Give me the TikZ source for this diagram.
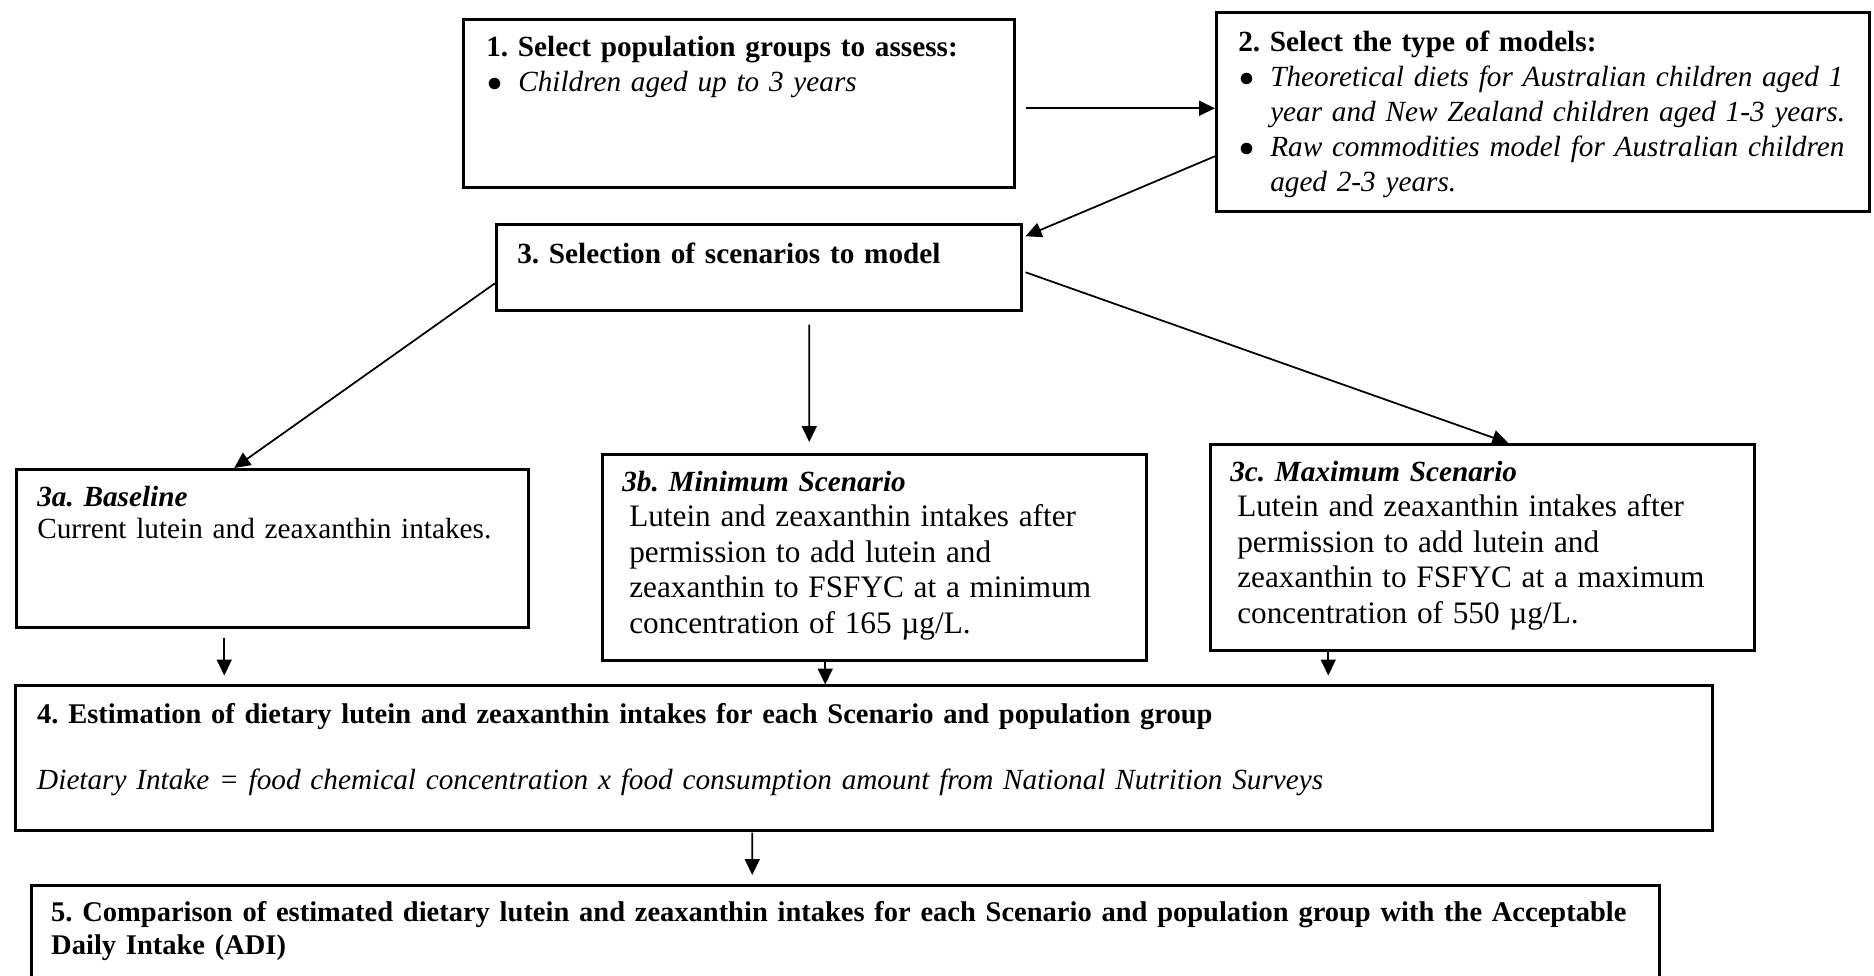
\documentclass[tikz,border=0pt]{standalone}
\usepackage{fontspec}
\setmainfont{Liberation Serif}
\usepackage{tikz}
\usetikzlibrary{%
  arrows.meta% Triangle tips
}

\hyphenpenalty=10000
\exhyphenpenalty=10000
\setlength{\parskip}{0pt}

% one bullet item, hanging indent
\newcommand{\bulletline}[1]{\par\hangindent=12.8pt\relax\hangafter=1\relax
  \hspace*{0.4pt}\makebox[12.4pt][l]{$\bullet$}\textit{#1}}

\tikzset{
  stage/.style={draw, line width=1pt, anchor=north west, inner sep=0pt,
    font=\fontsize{11.7}{14}\selectfont,
    execute at begin node={\raggedright\frenchspacing}},
  arr/.style={-{Triangle[length=6.4pt,width=6pt]}, line width=0.7pt}
}

\begin{document}
\begin{tikzpicture}[x=0.4pt, y=-0.4pt]
  \useasboundingbox (0,0) rectangle (1874,975);

  %population and models
  \node[stage, text width=220.4pt, text height=14.8pt, text depth=52.4pt] (s1) at (462,18)
    {\leftskip=9.2pt\relax \textbf{1. Select population groups to assess:}
     \bulletline{Children aged up to 3 years}\par};
  \node[stage, text width=261.2pt, text height=15.6pt, text depth=64pt] (s2) at (1215,11)
    {\leftskip=8.8pt\relax \textbf{2. Select the type of models:}
     \bulletline{Theoretical diets for Australian children aged 1\newline year and New Zealand children aged 1-3 years.}
     \bulletline{Raw commodities model for Australian children\newline aged 2-3 years.}\par};

  %scenarios
  \node[stage, text width=210pt, text height=15.6pt, text depth=18.8pt] (s3) at (495,223)
    {\leftskip=8.4pt\relax \textbf{3. Selection of scenarios to model}\par};
  \node[stage, text width=204.8pt, text height=14.8pt, text depth=48.4pt] (s3a) at (15,468)
    {\leftskip=8.4pt\relax \textbf{\textit{3a. Baseline}}\\[-1.2pt] Current lutein and zeaxanthin intakes.\par};
  \node[stage, text width=217.6pt, text height=14.8pt, text depth=67.6pt] (s3b) at (601,453)
    {\leftskip=8pt\relax \textbf{\textit{3b. Minimum Scenario}}\par
     \fontsize{12.5}{14.2}\selectfont\advance\leftskip 2.8pt\relax
     Lutein and zeaxanthin intakes after\\ permission to add lutein and\\
     zeaxanthin to FSFYC at a minimum\\ concentration of 165 µg/L.\par};
  \node[stage, text width=217.6pt, text height=14.8pt, text depth=67.6pt] (s3c) at (1209,443)
    {\leftskip=8pt\relax \textbf{\textit{3c. Maximum Scenario}}\par
     \fontsize{12.5}{14.2}\selectfont\advance\leftskip 2.8pt\relax
     Lutein and zeaxanthin intakes after\\ permission to add lutein and\\
     zeaxanthin to FSFYC at a maximum\\ concentration of 550 µg/L.\par};

  %estimation and comparison
  \node[stage, text width=678.8pt, text height=15.2pt, text depth=42.8pt] (s4) at (14,684)
    {\leftskip=8.8pt\relax {\fontsize{11.4}{14}\selectfont\textbf{4. Estimation of dietary lutein and zeaxanthin intakes for each Scenario and population group}}\\[12.4pt]
     \textit{Dietary Intake = food chemical concentration x food consumption amount from National Nutrition Surveys}\par};
  \node[stage, text width=651.2pt, text height=14.4pt, text depth=32pt] (s5) at (30,884)
    {\leftskip=8pt\relax \fontsize{11.4}{13.2}\selectfont
     \textbf{5. Comparison of estimated dietary lutein and zeaxanthin intakes for each Scenario and population group with the Acceptable\\ Daily Intake (ADI)}\par};

  \draw[arr] ([xshift=4pt,yshift=-2pt]s1.east) -- ([yshift=-2pt]s1.east -| s2.west);
  \draw[arr] ([yshift=-17.8pt]s2.west) -- ([xshift=1.2pt,yshift=12.4pt]s3.east);
  \draw[arr] ([yshift=-6.4pt]s3.west) -- ([xshift=-15.2pt]s3a.north);
  \draw[arr] ([xshift=20.2pt,yshift=-5.2pt]s3.south) -- ([xshift=-26pt,yshift=4.4pt]s3b.north);
  \draw[arr] ([xshift=1.2pt,yshift=-2pt]s3.east) -- ([xshift=10.4pt]s3c.north);
  \draw[arr] ([xshift=-19.2pt,yshift=-3.6pt]s3a.south) -- ([xshift=-19.2pt,yshift=-18.8pt]s3a.south);
  \draw[arr] ([xshift=-19.6pt]s3b.south) -- ([xshift=-19.6pt,yshift=-9.2pt]s3b.south);
  \draw[arr] ([xshift=-61.6pt]s3c.south) -- ([xshift=-61.6pt,yshift=-9.6pt]s3c.south);
  \draw[arr] ([xshift=-44.6pt,yshift=-0.4pt]s4.south) -- ([xshift=-37.2pt,yshift=3.6pt]s5.north);
\end{tikzpicture}
\end{document}
